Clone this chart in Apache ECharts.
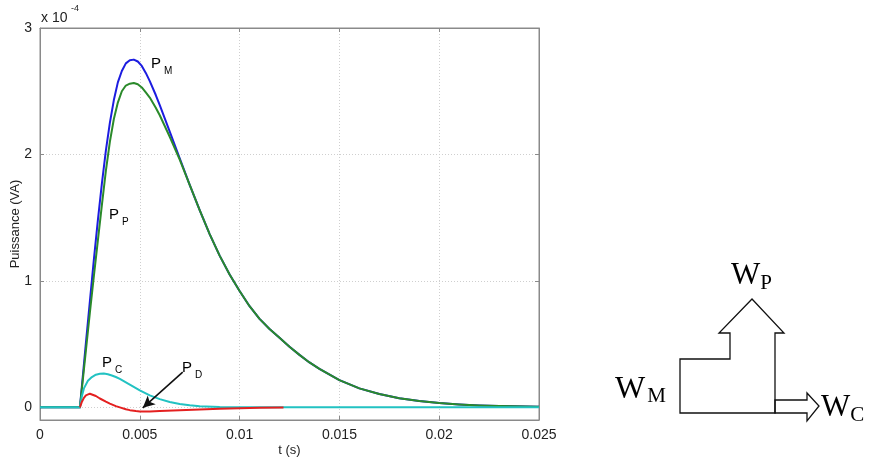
<!DOCTYPE html>
<html><head><meta charset="utf-8">
<script src="https://cdn.jsdelivr.net/npm/echarts@6/dist/echarts.min.js"></script>
<style>html,body{margin:0;padding:0;background:#fff}#c{width:871px;height:461px}</style>
</head><body><div id="c"></div>
<script>
// values in units of 1e-4 VA, time in s
const xTicks = [0, 0.005, 0.01, 0.015, 0.02, 0.025];
const yTicks = [0, 1, 2, 3];
const pM = [[0,0],[0.002,0],[0.0021,0.17],[0.0022,0.34],[0.0023,0.51],[0.0025,0.84],[0.0027,1.17],[0.0029,1.48],[0.0031,1.77],[0.0033,2.03],[0.0035,2.25],[0.0037,2.43],[0.0039,2.57],[0.0041,2.66],[0.0043,2.72],[0.0045,2.745],[0.0047,2.75],[0.0049,2.735],[0.0051,2.7],[0.0053,2.645],[0.0055,2.58],[0.0058,2.47],[0.006,2.39],[0.0065,2.18],[0.007,1.97],[0.0075,1.76],[0.008,1.56],[0.0085,1.37],[0.009,1.2],[0.0095,1.05],[0.01,0.92],[0.0105,0.8],[0.011,0.70],[0.0115,0.62],[0.012,0.55],[0.0125,0.48],[0.013,0.415],[0.0135,0.355],[0.014,0.305],[0.015,0.215],[0.016,0.15],[0.017,0.105],[0.018,0.072],[0.019,0.05],[0.02,0.034],[0.021,0.023],[0.022,0.015],[0.023,0.01],[0.025,0.005]];
const pP = [[0,0],[0.002,0],[0.0021,0.15],[0.0022,0.3],[0.0023,0.45],[0.0025,0.75],[0.0027,1.04],[0.0029,1.32],[0.0031,1.6],[0.0033,1.87],[0.0035,2.1],[0.0037,2.28],[0.0039,2.41],[0.0041,2.5],[0.0043,2.545],[0.0045,2.56],[0.0047,2.565],[0.0049,2.555],[0.0051,2.53],[0.0053,2.49],[0.0055,2.45],[0.0058,2.37],[0.006,2.31],[0.0065,2.14],[0.007,1.96],[0.0075,1.76],[0.008,1.56],[0.0085,1.37],[0.009,1.2],[0.0095,1.05],[0.01,0.92],[0.0105,0.8],[0.011,0.70],[0.0115,0.62],[0.012,0.55],[0.0125,0.48],[0.013,0.415],[0.0135,0.355],[0.014,0.305],[0.015,0.215],[0.016,0.15],[0.017,0.105],[0.018,0.072],[0.019,0.05],[0.02,0.034],[0.021,0.023],[0.022,0.015],[0.023,0.01],[0.025,0.005]];
const pC = [[0,0],[0.002,0],[0.0021,0.09],[0.0022,0.15],[0.0024,0.21],[0.0026,0.24],[0.0028,0.258],[0.003,0.265],[0.0032,0.267],[0.0034,0.262],[0.0036,0.252],[0.0038,0.24],[0.004,0.225],[0.0045,0.18],[0.005,0.135],[0.0055,0.095],[0.006,0.065],[0.0065,0.042],[0.007,0.027],[0.0075,0.016],[0.008,0.009],[0.009,0.003],[0.01,0.001],[0.025,0]];
const pD = [[0.002,0],[0.0021,0.045],[0.0022,0.075],[0.0023,0.095],[0.0024,0.105],[0.0025,0.108],[0.0026,0.105],[0.0028,0.09],[0.003,0.07],[0.0033,0.045],[0.0035,0.03],[0.0038,0.01],[0.004,0.0],[0.0043,-0.015],[0.0045,-0.022],[0.0048,-0.029],[0.005,-0.032],[0.0053,-0.033],[0.0055,-0.032],[0.006,-0.028],[0.007,-0.022],[0.008,-0.016],[0.009,-0.011],[0.01,-0.007],[0.011,-0.004],[0.0122,-0.002]];
const arrowFrom = [0.00715, 0.278], arrowTo = [0.00515, -0.004];

const chart = echarts.init(document.getElementById('c'));
const F = 'Liberation Sans, Arial, sans-serif';
const S = 'Liberation Serif, Times New Roman, serif';
const AX = '#8a8a8a';
const line = (name, data, color, z) => ({type:'line', name, data, showSymbol:false, smooth:false, z, lineStyle:{color, width:2, join:'round'}, itemStyle:{color}});
const sub = {a:{fontSize:15, fontFamily:F, color:'#111'}, b:{fontSize:10, fontFamily:F, color:'#111', padding:[15,0,0,3]}};
chart.setOption({
  animation:false,
  grid:{left:40, right:332, top:28, bottom:41, containLabel:false, outerBoundsMode:'none', show:true, borderColor:AX, borderWidth:1},
  xAxis:[{type:'value', min:0, max:0.025, interval:0.005,
    axisLine:{show:true, onZero:false, lineStyle:{color:AX}},
    axisTick:{show:true, inside:true, length:4, lineStyle:{color:AX}},
    axisLabel:{color:'#222', fontSize:14, fontFamily:F, margin:8, formatter:v=>String(v), customValues:xTicks},
    splitLine:{show:true, lineStyle:{color:'#cfcfcf', type:[1,2]}},
    name:'t (s)', nameLocation:'middle', nameGap:24, nameMoveOverlap:false, nameTextStyle:{color:'#222', fontSize:13, fontFamily:F}},
    {type:'value', position:'top', min:0, max:0.025, interval:0.005,
    axisLine:{show:true, onZero:false, lineStyle:{color:AX}},
    axisTick:{show:true, inside:true, length:4, lineStyle:{color:AX}},
    axisLabel:{show:false}, splitLine:{show:false}}],
  yAxis:[{type:'value', min:-0.1, max:3,
    axisLine:{show:true, onZero:false, lineStyle:{color:AX}},
    axisTick:{show:true, inside:true, length:4, customValues:yTicks, lineStyle:{color:AX}},
    axisLabel:{color:'#222', fontSize:14, fontFamily:F, margin:8, customValues:yTicks},
    splitLine:{show:true, lineStyle:{color:'#cfcfcf', type:[1,2]}},
    name:'Puissance (VA)', nameLocation:'middle', nameGap:18, nameMoveOverlap:false, nameRotate:90, nameTextStyle:{color:'#222', fontSize:13, fontFamily:F}},
    {type:'value', position:'right', min:-0.1, max:3,
    axisLine:{show:true, onZero:false, lineStyle:{color:AX}},
    axisTick:{show:true, inside:true, length:4, customValues:yTicks, lineStyle:{color:AX}},
    axisLabel:{show:false}, splitLine:{show:false}}],
  series:[
    line('PM', pM, '#1c1ce0', 2),
    line('PP', pP, '#2a8a2a', 3),
    line('PC', pC, '#22c2c2', 4),
    Object.assign(line('PD', pD, '#e42020', 5), {markLine:{silent:true, symbol:['none','arrow'], symbolSize:[9,12],
      lineStyle:{color:'#111', width:1.6, type:'solid'}, label:{show:false},
      data:[[{coord:arrowFrom},{coord:arrowTo}]]}})
  ],
  graphic:[
    {type:'text', left:41, top:11, style:{text:'x 10', fontSize:14, fontFamily:F, fill:'#222'}},
    {type:'text', left:71, top:4, style:{text:'-4', fontSize:9, fontFamily:F, fill:'#222'}},
    {type:'text', x:151, y:51, style:{text:'{a|P}{b|M}', rich:sub}},
    {type:'text', x:109, y:202, style:{text:'{a|P}{b|P}', rich:sub}},
    {type:'text', x:102, y:350, style:{text:'{a|P}{b|C}', rich:sub}},
    {type:'text', x:182, y:355, style:{text:'{a|P}{b|D}', rich:sub}},
    // energy diagram
    {type:'polygon', shape:{points:[[680,413],[680,359],[730,359],[730,333],[719,333],[752,299],[784,333],[775,333],[775,413]]}, style:{fill:'none', stroke:'#111', lineWidth:1.3}},
    {type:'polygon', shape:{points:[[775,400],[807,400],[807,393],[819,406],[807,421],[807,413],[775,413]]}, style:{fill:'none', stroke:'#111', lineWidth:1.3}},
    {type:'text', x:615, y:372, style:{text:'{a|W}{b|M}', rich:{a:{fontSize:32, fontFamily:S, color:'#111'}, b:{fontSize:21, fontFamily:S, color:'#111', padding:[14,0,0,2]}}}},
    {type:'text', x:731, y:257, style:{text:'{a|W}{b|P}', rich:{a:{fontSize:31, fontFamily:S, color:'#111'}, b:{fontSize:21, fontFamily:S, color:'#111', padding:[16,0,0,0]}}}},
    {type:'text', x:821, y:389, style:{text:'{a|W}{b|C}', rich:{a:{fontSize:31, fontFamily:S, color:'#111'}, b:{fontSize:21, fontFamily:S, color:'#111', padding:[16,0,0,0]}}}}
  ]
});
</script></body></html>
